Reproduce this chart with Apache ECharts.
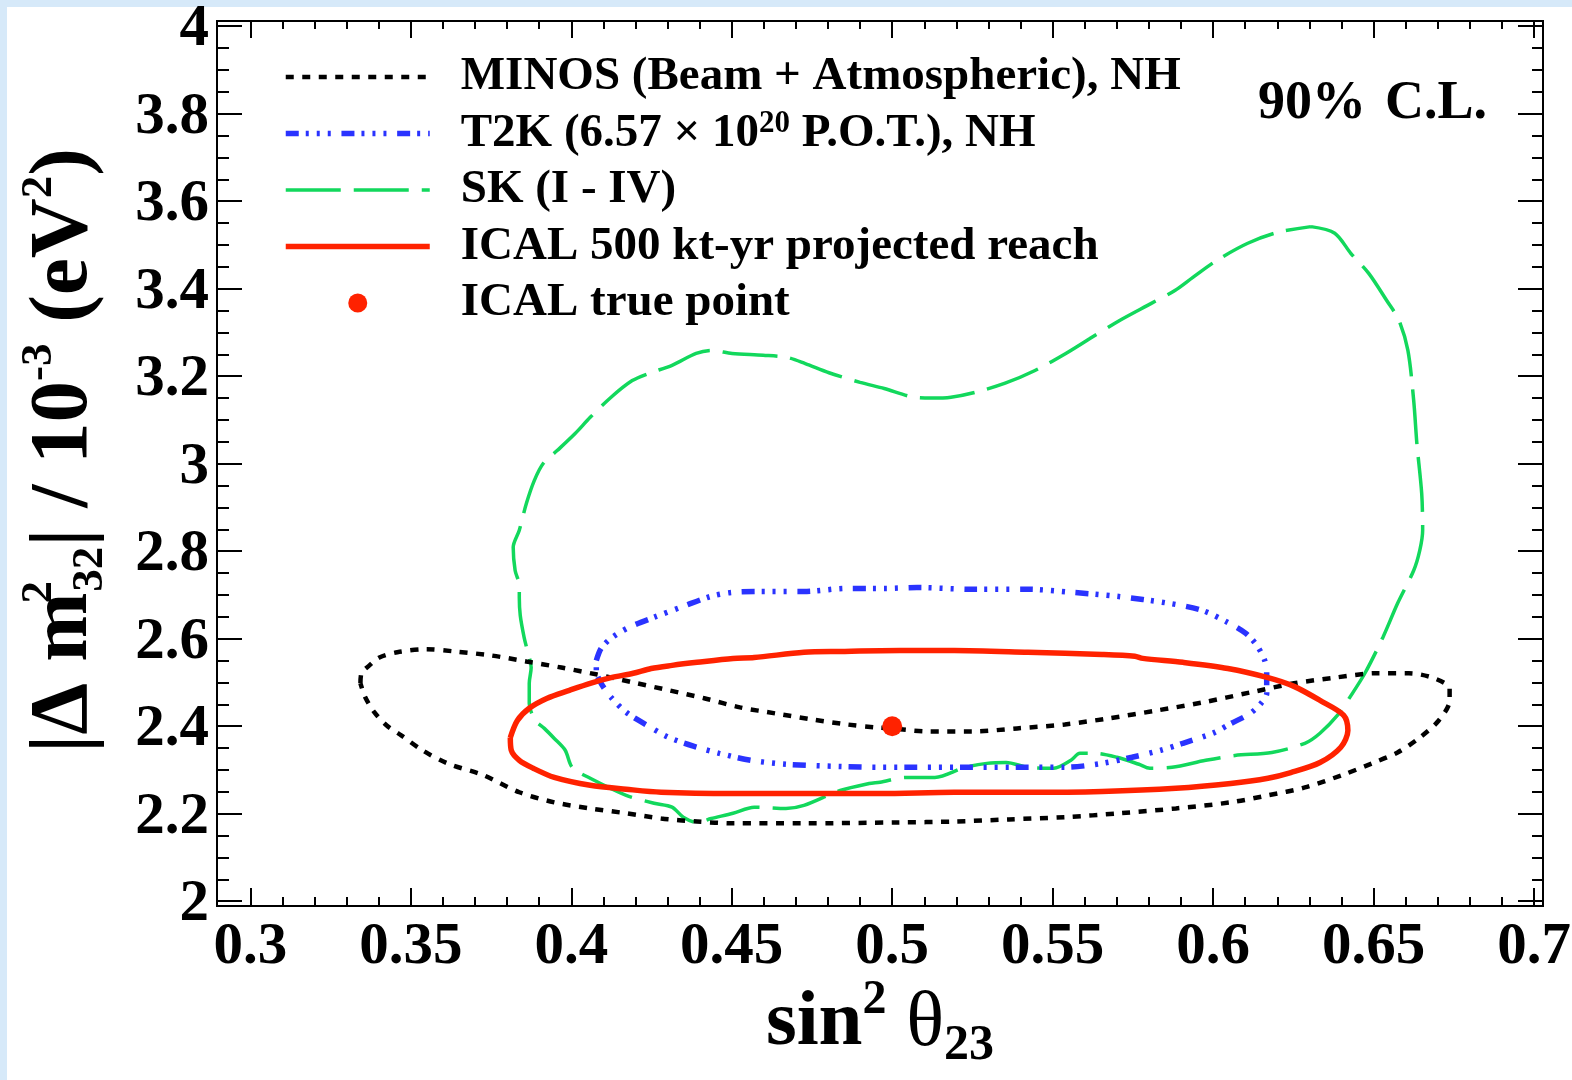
<!DOCTYPE html>
<html>
<head>
<meta charset="utf-8">
<script src="https://cdn.jsdelivr.net/npm/echarts@6/dist/echarts.min.js"></script>
<style>
html,body{margin:0;padding:0;background:#ffffff;width:1572px;height:1080px;overflow:hidden;}
#bandTop{position:absolute;left:0;top:0;width:1572px;height:7px;background:#d6e9f9;}
#bandLeft{position:absolute;left:0;top:0;width:7px;height:1080px;background:#d6e9f9;}
#chart{position:absolute;left:0;top:0;width:1572px;height:1080px;}
</style>
</head>
<body>
<div id="bandTop"></div><div id="bandLeft"></div>
<div id="chart"></div>
<script>
// ---------------- data ----------------
const xTickLabels = [0.3, 0.35, 0.4, 0.45, 0.5, 0.55, 0.6, 0.65, 0.7];
const yTickLabels = [2, 2.2, 2.4, 2.6, 2.8, 3, 3.2, 3.4, 3.6, 3.8, 4];

const seriesNames = [
  'MINOS (Beam + Atmospheric), NH',
  'T2K (6.57 × 10^20 P.O.T.), NH',
  'SK (I - IV)',
  'ICAL 500 kt-yr projected reach',
  'ICAL true point'
];

const minosContour = [
  [0.3343,2.498],[0.3346,2.521],[0.3371,2.539],[0.3402,2.557],[0.3458,2.569],[0.3548,2.576],
  [0.3635,2.571],[0.3747,2.562],[0.3860,2.548],[0.3969,2.534],[0.4081,2.518],[0.4193,2.500],
  [0.4305,2.482],[0.4414,2.464],[0.4526,2.443],[0.4638,2.429],[0.4747,2.416],[0.4859,2.404],
  [0.4950,2.397],[0.4996,2.395],[0.5112,2.388],[0.5249,2.388],[0.5389,2.395],[0.5538,2.404],
  [0.5675,2.418],[0.5825,2.436],[0.5965,2.454],[0.6115,2.477],[0.6252,2.498],[0.6379,2.511],
  [0.6507,2.521],[0.6610,2.521],[0.6691,2.509],[0.6737,2.486],[0.6737,2.459],[0.6703,2.413],
  [0.6644,2.374],[0.6575,2.340],[0.6495,2.315],[0.6401,2.288],[0.6286,2.260],[0.6171,2.242],
  [0.6055,2.226],[0.5884,2.212],[0.5710,2.201],[0.5538,2.192],[0.5364,2.187],[0.5193,2.182],
  [0.5018,2.180],[0.4725,2.178],[0.4504,2.178],[0.4392,2.182],[0.4280,2.189],[0.4171,2.201],
  [0.4059,2.212],[0.3947,2.226],[0.3838,2.249],[0.3726,2.288],[0.3614,2.315],[0.3536,2.345],
  [0.3470,2.379],[0.3424,2.402],[0.3386,2.432],[0.3358,2.466],[0.3343,2.498]
];

const t2kContour = [
  [0.4078,2.550],[0.4093,2.578],[0.4124,2.601],[0.4180,2.626],[0.4258,2.649],[0.4349,2.674],
  [0.4436,2.697],[0.4504,2.706],[0.4616,2.708],[0.4725,2.708],[0.4859,2.715],[0.4981,2.715],
  [0.5077,2.717],[0.5249,2.713],[0.5423,2.713],[0.5560,2.706],[0.5700,2.697],[0.5862,2.681],
  [0.5965,2.665],[0.6046,2.637],[0.6102,2.612],[0.6136,2.585],[0.6161,2.550],[0.6167,2.521],
  [0.6167,2.475],[0.6149,2.452],[0.6115,2.429],[0.6055,2.406],[0.5999,2.384],[0.5906,2.361],
  [0.5837,2.345],[0.5747,2.329],[0.5654,2.315],[0.5538,2.306],[0.5423,2.306],[0.5249,2.306],
  [0.5077,2.306],[0.4962,2.306],[0.4838,2.308],[0.4669,2.313],[0.4560,2.322],[0.4461,2.338],
  [0.4392,2.352],[0.4305,2.374],[0.4236,2.402],[0.4171,2.432],[0.4124,2.466],[0.4093,2.498],
  [0.4078,2.527],[0.4078,2.550]
];

const skContour = [
  [0.6305,3.542],[0.6379,3.527],[0.6429,3.481],[0.6485,3.435],[0.6541,3.373],[0.6579,3.328],
  [0.6607,3.259],[0.6625,3.145],[0.6635,3.046],[0.6650,2.932],[0.6653,2.848],[0.6644,2.802],
  [0.6625,2.756],[0.6575,2.681],[0.6529,2.603],[0.6473,2.521],[0.6426,2.466],[0.6392,2.429],
  [0.6333,2.384],[0.6286,2.361],[0.6183,2.340],[0.6068,2.333],[0.5977,2.322],[0.5872,2.306],
  [0.5803,2.304],[0.5769,2.313],[0.5700,2.329],[0.5632,2.338],[0.5585,2.338],[0.5557,2.322],
  [0.5504,2.304],[0.5423,2.306],[0.5355,2.317],[0.5295,2.315],[0.5227,2.306],[0.5133,2.283],
  [0.5043,2.283],[0.4962,2.272],[0.4928,2.269],[0.4838,2.253],[0.4725,2.219],[0.4669,2.212],
  [0.4570,2.215],[0.4504,2.201],[0.4436,2.189],[0.4392,2.180],[0.4349,2.192],[0.4314,2.215],
  [0.4258,2.224],[0.4171,2.242],[0.4059,2.281],[0.4003,2.306],[0.3981,2.345],[0.3947,2.372],
  [0.3916,2.395],[0.3888,2.413],[0.3869,2.452],[0.3869,2.498],[0.3875,2.534],[0.3863,2.573],
  [0.3853,2.603],[0.3841,2.653],[0.3838,2.694],[0.3838,2.722],[0.3825,2.756],[0.3819,2.809],
  [0.3838,2.848],[0.3860,2.909],[0.3885,2.962],[0.3913,3.001],[0.3956,3.030],[0.4012,3.069],
  [0.4059,3.106],[0.4124,3.152],[0.4190,3.190],[0.4240,3.206],[0.4314,3.225],[0.4389,3.252],
  [0.4436,3.259],[0.4501,3.252],[0.4598,3.248],[0.4672,3.243],[0.4729,3.229],[0.4803,3.208],
  [0.4900,3.186],[0.4975,3.172],[0.5068,3.152],[0.5124,3.150],[0.5183,3.152],[0.5258,3.163],
  [0.5352,3.184],[0.5445,3.213],[0.5541,3.252],[0.5616,3.286],[0.5710,3.328],[0.5806,3.366],
  [0.5881,3.396],[0.5937,3.426],[0.6012,3.465],[0.6108,3.504],[0.6202,3.529],[0.6305,3.542]
];

const icalContour = [
  [0.3810,2.374],[0.3832,2.413],[0.3869,2.441],[0.3925,2.464],[0.3994,2.482],[0.4059,2.498],
  [0.4124,2.511],[0.4193,2.521],[0.4249,2.532],[0.4314,2.539],[0.4392,2.546],[0.4504,2.555],
  [0.4570,2.557],[0.4725,2.569],[0.4838,2.571],[0.5024,2.573],[0.5193,2.573],[0.5423,2.569],
  [0.5654,2.564],[0.5756,2.560],[0.5781,2.555],[0.5906,2.546],[0.6046,2.532],[0.6171,2.511],
  [0.6252,2.491],[0.6333,2.459],[0.6407,2.425],[0.6420,2.390],[0.6398,2.352],[0.6333,2.317],
  [0.6242,2.294],[0.6171,2.281],[0.6055,2.269],[0.5884,2.258],[0.5654,2.251],[0.5423,2.249],
  [0.5193,2.249],[0.4962,2.246],[0.4725,2.246],[0.4504,2.246],[0.4280,2.249],[0.4171,2.256],
  [0.4059,2.265],[0.3947,2.283],[0.3881,2.304],[0.3838,2.322],[0.3813,2.345],[0.3810,2.374]
];

const icalTruePoint = [[0.5, 2.4]];

// ---------------- helpers ----------------
function subdivide(major, n) {
  const out = [];
  for (let i = 0; i < major.length - 1; i++) {
    const a = major[i], b = major[i + 1];
    for (let k = 1; k < n; k++) out.push(+(a + (b - a) * k / n).toFixed(5));
  }
  return out;
}
const xMinor = subdivide(xTickLabels, 5);
const yMinor = subdivide(yTickLabels, 4);

const FONT = "'Liberation Serif', 'Times New Roman', serif";
const X_MIN = 0.2896, X_MAX = 0.7028, Y_MIN = 1.989, Y_MAX = 4.012;
const fmt = v => String(+(+v).toFixed(4));

function makeAxis(kind, position, ticks, len, labels, extra) {
  const ax = {
    type: 'value', position: position,
    min: kind === 'x' ? X_MIN : Y_MIN, max: kind === 'x' ? X_MAX : Y_MAX,
    splitLine: { show: false },
    axisLine: { show: true, onZero: false, lineStyle: { color: '#000', width: 2 } },
    axisTick: { show: true, inside: true, length: len, customValues: ticks,
      lineStyle: { color: '#000', width: 2 } },
    axisLabel: labels ? Object.assign({
      show: true, customValues: ticks, formatter: fmt,
      fontFamily: FONT, fontWeight: 'bold', fontSize: 59, color: '#000'
    }, labels) : { show: false },
    minorTick: { show: false }, minorSplitLine: { show: false },
    nameMoveOverlap: false
  };
  return Object.assign(ax, extra || {});
}

const T2K_LABEL = '{n|T2K (6.57 × 10}{s|20}{n| P.O.T.), NH}';
const legendRich = {
  n: { fontFamily: FONT, fontWeight: 'bold', fontSize: 47, color: '#000', lineHeight: 50 },
  s: { fontFamily: FONT, fontWeight: 'bold', fontSize: 31, color: '#000', lineHeight: 18, verticalAlign: 'top' }
};

const option = {
  animation: false,
  backgroundColor: 'transparent',
  grid: { left: 217, top: 21, width: 1326, height: 885, containLabel: false, outerBoundsMode: 'none', show: false },
  xAxis: [
    makeAxis('x', 'bottom', xTickLabels, 18, { margin: 12 }, {
      name: '{a|sin}{p|2}{t| θ}{b|23}', nameLocation: 'middle', nameGap: 71,
      nameTextStyle: {
        rich: {
          a: { fontFamily: FONT, fontWeight: 'bold', fontSize: 79, color: '#000', lineHeight: 94 },
          t: { fontFamily: FONT, fontWeight: 'normal', fontSize: 79, color: '#000', lineHeight: 94 },
          p: { fontFamily: FONT, fontWeight: 'bold', fontSize: 48, color: '#000', lineHeight: 51, verticalAlign: 'top' },
          b: { fontFamily: FONT, fontWeight: 'bold', fontSize: 50, color: '#000', lineHeight: 20, verticalAlign: 'bottom' }
        }
      }
    }),
    makeAxis('x', 'bottom', xMinor, 9, false),
    makeAxis('x', 'top', xTickLabels, 17, false),
    makeAxis('x', 'top', xMinor, 8, false)
  ],
  yAxis: [
    makeAxis('y', 'left', yTickLabels, 25, {
        margin: 8,
        formatter: v => '{v|' + fmt(v) + '}',
        rich: { v: { fontFamily: FONT, fontWeight: 'bold', fontSize: 59, color: '#000', lineHeight: 59, padding: [8, 0, 0, 0] } }
      }, {
      name: '{a||Δ m}{p|2}{b|32}{a|| / 10}{q|-3}{a| (eV}{q|2}{a|)}',
      nameLocation: 'middle', nameGap: 104,
      nameTextStyle: {
        padding: [0, 0, 0, 26],
        rich: {
          a: { fontFamily: FONT, fontWeight: 'bold', fontSize: 83, color: '#000', lineHeight: 96 },
          p: { fontFamily: FONT, fontWeight: 'bold', fontSize: 45, color: '#000', lineHeight: 31, verticalAlign: 'top', width: 1 },
          q: { fontFamily: FONT, fontWeight: 'bold', fontSize: 45, color: '#000', lineHeight: 31, verticalAlign: 'top' },
          b: { fontFamily: FONT, fontWeight: 'bold', fontSize: 45, color: '#000', lineHeight: 18, verticalAlign: 'bottom' }
        }
      }
    }),
    makeAxis('y', 'left', yMinor, 12, false),
    makeAxis('y', 'right', yTickLabels, 25, false),
    makeAxis('y', 'right', yMinor, 11, false)
  ],
  legend: {
    show: true, orient: 'vertical', left: 283, top: 52, padding: 0,
    itemWidth: 144, itemHeight: 19, itemGap: 6.5,
    selectedMode: false, inactiveColor: '#000',
    data: [
      { name: seriesNames[0], itemStyle: { opacity: 0 } },
      { name: seriesNames[1], itemStyle: { opacity: 0 } },
      { name: seriesNames[2], itemStyle: { opacity: 0 } },
      { name: seriesNames[3], itemStyle: { opacity: 0 } },
      { name: seriesNames[4] }
    ],
    lineStyle: { width: 'inherit', type: 'inherit', cap: 'butt' },
    formatter: function (name) { return name === seriesNames[1] ? T2K_LABEL : '{n|' + name + '}'; },
    textStyle: { fontFamily: FONT, fontWeight: 'bold', fontSize: 47, color: '#000', lineHeight: 50,
      padding: [0, 0, 0, 26], rich: legendRich }
  },
  graphic: [
    { type: 'text', x: 1258, y: 104, silent: true,
      style: { text: '{a|90%}{g| }{a|C.L.}', align: 'left', verticalAlign: 'middle',
        rich: {
          a: { fill: '#000', fontFamily: FONT, fontWeight: 'bold', fontSize: 54 },
          g: { fill: '#000', fontFamily: FONT, fontWeight: 'bold', fontSize: 54, width: 19 }
        } } }
  ],
  series: [
    { name: seriesNames[2], type: 'line', data: skContour, symbol: 'none', smooth: 0.3, silent: true, z: 2,
      lineStyle: { color: '#12d85c', width: 3.5, type: [55, 13], cap: 'butt' }, itemStyle: { color: '#12d85c' } },
    { name: seriesNames[0], type: 'line', data: minosContour, symbol: 'none', smooth: 0.3, silent: true, z: 3,
      lineStyle: { color: '#000000', width: 4.5, type: [8, 8.5], cap: 'butt' }, itemStyle: { color: '#000000' } },
    { name: seriesNames[1], type: 'line', data: t2kContour, symbol: 'none', smooth: 0.3, silent: true, z: 4,
      lineStyle: { color: '#2a33ff', width: 5.5, type: [13, 7, 3, 8, 3, 8, 3, 10.7], cap: 'butt' }, itemStyle: { color: '#2a33ff' } },
    { name: seriesNames[3], type: 'line', data: icalContour, symbol: 'none', smooth: 0.3, silent: true, z: 5,
      lineStyle: { color: '#ff2200', width: 5.5, type: 'solid' }, itemStyle: { color: '#ff2200' } },
    { name: seriesNames[4], type: 'scatter', data: icalTruePoint, symbol: 'circle', symbolSize: 20, silent: true, z: 6,
      itemStyle: { color: '#ff2200', opacity: 1 } }
  ]
};

const chart = echarts.init(document.getElementById('chart'), null, { renderer: 'canvas' });
chart.setOption(option);
</script>
</body>
</html>
